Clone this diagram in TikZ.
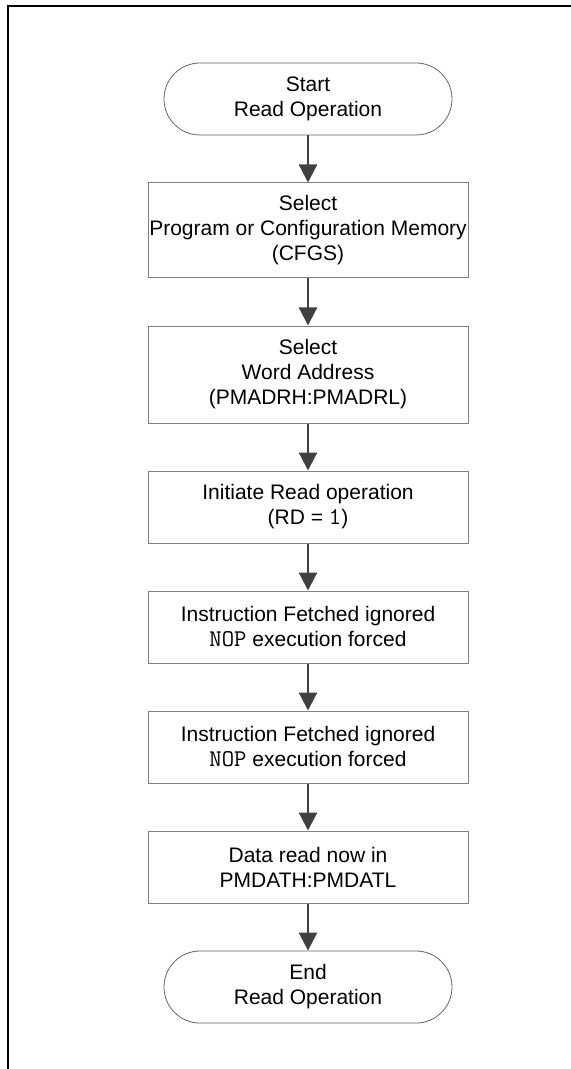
\documentclass[tikz,border=0pt]{standalone}
\usepackage{fontspec}
\setmainfont{Liberation Sans}
\usepackage{xcolor}
\usepackage{tikz}
\usetikzlibrary{arrows.meta,shapes}
\definecolor{boxgray}{gray}{0.5}
\definecolor{arrowgray}{gray}{0.25}
\newcommand\regval[1]{{\ttfamily\fontsize{12pt}{12.5pt}\selectfont#1}}

\begin{document}
\begin{tikzpicture}[x=0.5pt,y=-0.5pt,
  every node/.style={font=\fontsize{10.5pt}{12.5pt}\selectfont,align=center,inner sep=0pt},
  stepbox/.style={draw=boxgray,line width=0.5pt,minimum width=160pt,minimum height=36pt},
  termbox/.style={draw=boxgray!80!black,line width=0.4pt,rounded corners=18pt,minimum width=144pt,minimum height=36pt},
  flow/.style={-{Triangle[length=9pt,width=9pt]},arrowgray,line width=1.2pt}]
\useasboundingbox(0,0)rectangle(571,1069);
\draw[line width=1pt](8,1069)--(8,6)--(571,6);
\node[termbox](start)at(308,99){Start\\Read Operation};
\node[stepbox,minimum height=47.5pt](selmem)at(308,230.5){Select\\Program or Configuration Memory\\(CFGS)};
\node[stepbox,minimum height=48.5pt](seladr)at(308,374.5){Select\\Word Address\\(PMADRH:PMADRL)};
\node[stepbox](initrd)at(308,507){Initiate Read operation\\(RD = \regval{1})};
\node[stepbox](nopa)at(308,627){Instruction Fetched ignored\\\regval{NOP} execution forced};
\node[stepbox](nopb)at(308,747){Instruction Fetched ignored\\\regval{NOP} execution forced};
\node[stepbox](dataread)at(308,867){Data read now in\\PMDATH:PMDATL};
\node[termbox](stop)at(308,987){End\\Read Operation};
\draw[flow](start)--(selmem);
\draw[flow](selmem)--(seladr);
\draw[flow](seladr)--(initrd);
\draw[flow](initrd)--(nopa);
\draw[flow](nopa)--(nopb);
\draw[flow](nopb)--(dataread);
\draw[flow](dataread)--(stop);
\end{tikzpicture}
\end{document}
